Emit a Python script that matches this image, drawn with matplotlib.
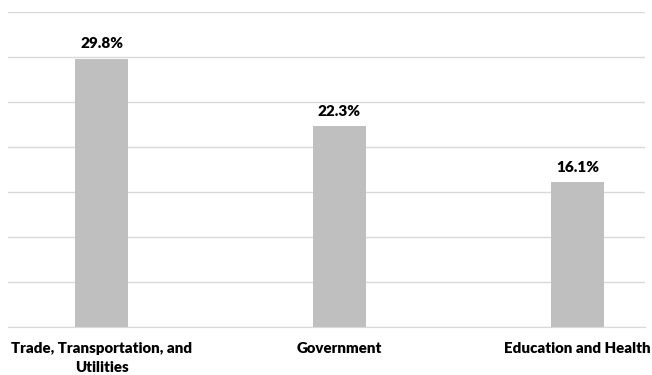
import matplotlib
matplotlib.use("Agg")
import matplotlib.pyplot as plt

categories = ["Trade, Transportation, and\nUtilities", "Government", "Education and Health"]
shares = [29.8, 22.3, 16.1]
value_labels = ["29.8%", "22.3%", "16.1%"]

plt.rcParams['font.family'] = ['Lato', 'DejaVu Sans']

fig = plt.figure(figsize=(6.52, 3.75), dpi=100)
ax = fig.add_axes([8 / 652, 48 / 375, 637 / 652, 315 / 375])

x = list(range(len(categories)))
ax.bar(x, shares, width=0.223, color='#BFBFBF', zorder=2)

for xi, v, lab in zip(x, shares, value_labels):
    ax.annotate(lab, (xi, v), xytext=(0, 6), textcoords='offset points',
                ha='center', va='bottom', fontsize=11, fontweight='heavy', color='black')

ax.set_xlim(-0.393, 2.284)
ax.set_ylim(0, 35)
ax.set_yticks(range(0, 36, 5))
ax.yaxis.grid(True, color='#D9D9D9', linewidth=1)
ax.set_axisbelow(True)
ax.tick_params(axis='y', left=False, labelleft=False)
ax.tick_params(axis='x', length=0, pad=11)
ax.set_xticks(x)
ax.set_xticklabels(categories, fontsize=10.8, fontweight='heavy', linespacing=1.5)
for s in ['top', 'right', 'left']:
    ax.spines[s].set_visible(False)
ax.spines['bottom'].set_color('#D9D9D9')

fig.savefig("out.png", dpi=100)
